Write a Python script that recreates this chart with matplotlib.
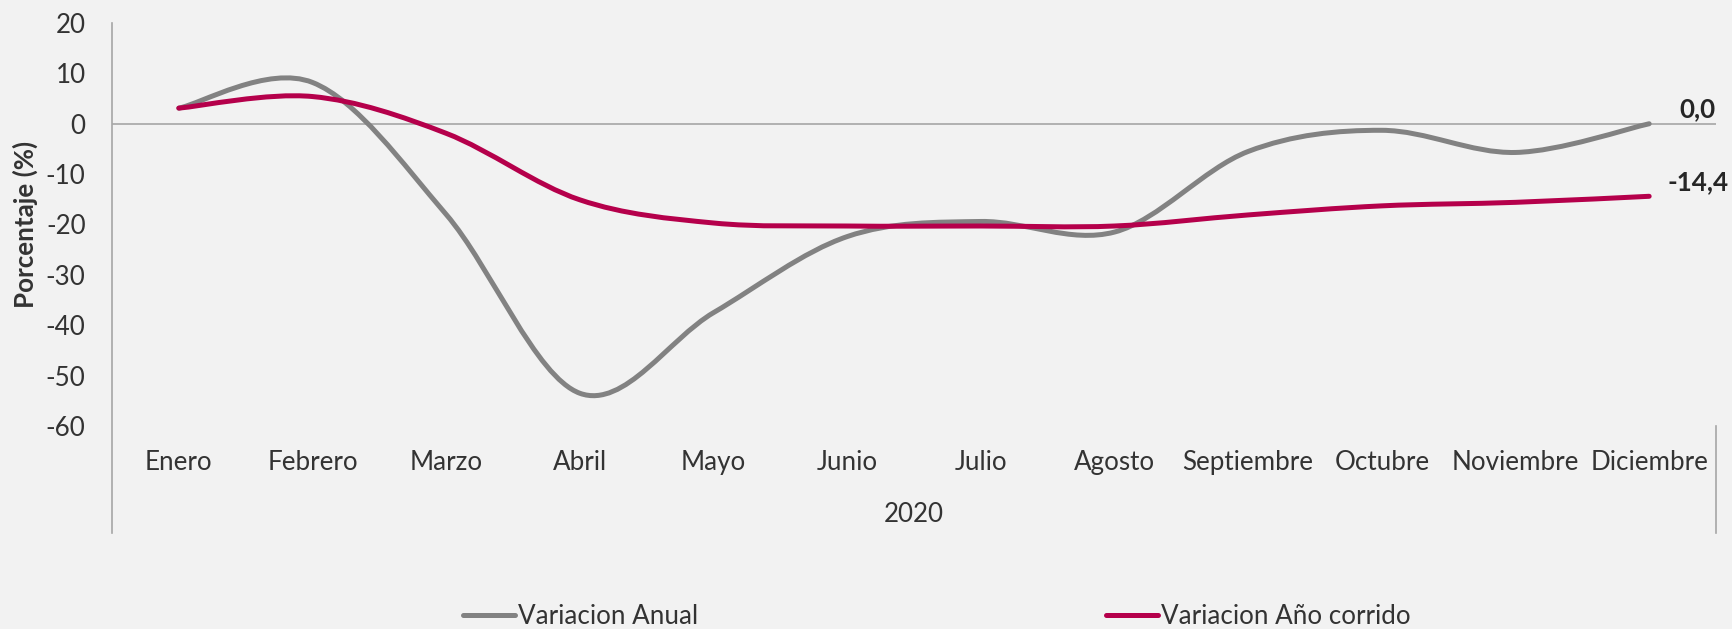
import matplotlib.pyplot as plt
from matplotlib.path import Path
from matplotlib.patches import PathPatch
from matplotlib.lines import Line2D
import numpy as np

plt.rcParams['font.family'] = ['Lato', 'DejaVu Sans']
plt.rcParams['axes.unicode_minus'] = False

meses = ['Enero', 'Febrero', 'Marzo', 'Abril', 'Mayo', 'Junio', 'Julio',
         'Agosto', 'Septiembre', 'Octubre', 'Noviembre', 'Diciembre']
var_anual = [3.1, 8.2, -18.0, -53.5, -37.5, -22.4, -19.4, -21.5, -5.5, -1.3, -5.7, 0.0]
var_corrido = [3.1, 5.4, -1.9, -15.1, -19.7, -20.3, -20.3, -20.3, -18.1, -16.3, -15.6, -14.4]
anio = '2020'

GRIS = '#828282'
ROJO = '#B5004B'
TXT = '#333333'
BG = '#F2F2F2'
FS = 18.7


def curva_suave(y):
    # curva tipo Excel (Bezier con puntos de control Catmull-Rom)
    x = np.arange(len(y), dtype=float)
    y = np.asarray(y, dtype=float)
    pts = np.column_stack([x, y])
    verts = [pts[0]]
    codes = [Path.MOVETO]
    n = len(pts)
    for i in range(n - 1):
        p_prev = pts[max(i - 1, 0)]
        p0 = pts[i]
        p1 = pts[i + 1]
        p_next = pts[min(i + 2, n - 1)]
        c1 = p0 + (p1 - p_prev) / 6.0
        c2 = p1 - (p_next - p0) / 6.0
        verts += [c1, c2, p1]
        codes += [Path.CURVE4] * 3
    return Path(verts, codes)


W, H = 1732, 629
fig = plt.figure(figsize=(W / 100, H / 100), dpi=100, facecolor=BG)
L, R, T, B = 112, 1716, 23, 426
ax = fig.add_axes([L / W, 1 - B / H, (R - L) / W, (B - T) / H])
ax.set_facecolor(BG)

ax.set_xlim(-0.5, len(meses) - 0.5)
ax.set_ylim(-60, 20)
ax.set_yticks(range(-60, 21, 10))
ax.set_xticks(range(len(meses)))
ax.set_xticklabels(meses)

for s in ax.spines.values():
    s.set_visible(False)

ax.tick_params(axis='both', length=0, labelsize=FS, labelcolor=TXT)
ax.tick_params(axis='y', pad=19)
ax.tick_params(axis='x', pad=26)
for lab in ax.get_xticklabels():
    lab.set_verticalalignment('center')

# ejes
ax.axhline(0, color='#A6A6A6', lw=1.2, zorder=1)
ext = -(533 - B) / (B - T)
ax.plot([0, 0], [1, ext], transform=ax.transAxes, color='#A6A6A6', lw=1.2, clip_on=False)
ax.plot([1, 1], [0, ext], transform=ax.transAxes, color='#A6A6A6', lw=1.2, clip_on=False)

ax.add_patch(PathPatch(curva_suave(var_anual), facecolor='none', edgecolor=GRIS,
                       lw=3.6, capstyle='round', zorder=3))
ax.add_patch(PathPatch(curva_suave(var_corrido), facecolor='none', edgecolor=ROJO,
                       lw=3.6, capstyle='round', zorder=4))

# etiquetas finales
for serie in [var_anual, var_corrido]:
    v = serie[-1]
    ax.annotate(f'{v:.1f}'.replace('.', ','), (len(serie) - 1, v),
                xytext=(35, 10.5), textcoords='offset points',
                ha='center', va='center', fontsize=FS, fontweight='bold', color='#262626')

ax.set_ylabel('Porcentaje (%)', fontsize=FS, fontweight='bold', color=TXT, labelpad=6)
ax.text(0.5, -(514 - B) / (B - T), anio, transform=ax.transAxes,
        ha='center', va='center', fontsize=FS, color=TXT)

handles = [Line2D([], [], color=GRIS, lw=3.6, solid_capstyle='round'),
           Line2D([], [], color=ROJO, lw=3.6, solid_capstyle='round')]
leg = fig.legend(handles, ['Variacion Anual', 'Variacion Año corrido'],
                 loc='center', bbox_to_anchor=(937 / W, 1 - 617 / H), ncol=2,
                 frameon=False, fontsize=FS, handlelength=2.0, handletextpad=0.12,
                 columnspacing=15.7, labelcolor=TXT)

fig.savefig('out.png', dpi=100, facecolor=BG)
